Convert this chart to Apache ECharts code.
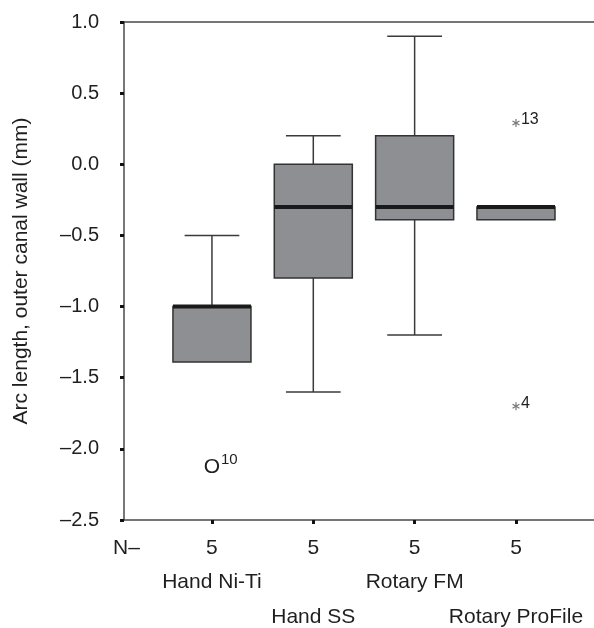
<!DOCTYPE html>
<html>
<head>
<meta charset="utf-8">
<script src="https://cdn.jsdelivr.net/npm/echarts@6/dist/echarts.min.js"></script>
<style>
html, body { margin: 0; padding: 0; background: #fff; }
#chart { width: 594px; height: 628px; }
</style>
</head>
<body>
<div id="chart"></div>
<script>
// 分组与样本数
var groups = ['Hand Ni-Ti', 'Hand SS', 'Rotary FM', 'Rotary ProFile'];
var counts = [5, 5, 5, 5];
var groupPos = [1, 2, 3, 4];

// 箱线图数值
var lowWhisker = [-1.39, -1.6, -1.2, -0.39];
var q1 = [-1.39, -0.8, -0.39, -0.39];
var median = [-1.0, -0.3, -0.3, -0.3];
var q3 = [-1.0, 0.0, 0.2, -0.3];
var highWhisker = [-0.5, 0.2, 0.9, -0.3];

// 离群值
var outlierPos = [1, 4, 4];
var outlierValue = [-2.13, 0.29, -1.7];
var outlierMark = ['O', '*', '*'];
var outlierCase = ['10', '13', '4'];

var FONT = '"Liberation Sans", Arial, sans-serif';
var TXT = '#1f1f1f';
var X_MIN = 0.132, X_MAX = 4.77;

var boxData = groupPos.map(function(x, i) {
    return [x, lowWhisker[i], q1[i], median[i], q3[i], highWhisker[i]];
});
var outlierData = outlierPos.map(function(x, i) {
    return [x, outlierValue[i]];
});

function renderBox(params, api) {
    var x = api.value(0);
    var pLow = api.coord([x, api.value(1)]);
    var pQ1 = api.coord([x, api.value(2)]);
    var pMed = api.coord([x, api.value(3)]);
    var pQ3 = api.coord([x, api.value(4)]);
    var pHigh = api.coord([x, api.value(5)]);
    var boxW = api.size([0.77, 0])[0];
    var capW = api.size([0.54, 0])[0];
    var cx = pMed[0];
    var ls = { stroke: '#3a3a3a', lineWidth: 1.5 };
    var children = [];
    if (pHigh[1] < pQ3[1] - 0.5) {
        children.push({ type: 'line', shape: { x1: cx, y1: pQ3[1], x2: cx, y2: pHigh[1] }, style: ls });
        children.push({ type: 'line', shape: { x1: cx - capW / 2, y1: pHigh[1], x2: cx + capW / 2, y2: pHigh[1] }, style: ls });
    }
    if (pLow[1] > pQ1[1] + 0.5) {
        children.push({ type: 'line', shape: { x1: cx, y1: pQ1[1], x2: cx, y2: pLow[1] }, style: ls });
        children.push({ type: 'line', shape: { x1: cx - capW / 2, y1: pLow[1], x2: cx + capW / 2, y2: pLow[1] }, style: ls });
    }
    children.push({
        type: 'rect',
        shape: { x: cx - boxW / 2, y: pQ3[1], width: boxW, height: pQ1[1] - pQ3[1] },
        style: { fill: '#8e8f93', stroke: '#333333', lineWidth: 1.5 }
    });
    children.push({
        type: 'line',
        shape: { x1: cx - boxW / 2, y1: pMed[1], x2: cx + boxW / 2, y2: pMed[1] },
        style: { stroke: '#1a1a1a', lineWidth: 4 }
    });
    return { type: 'group', children: children };
}

function renderOutlier(params, api) {
    var i = params.dataIndex;
    var p = api.coord([api.value(0), api.value(1)]);
    var children = [];
    if (outlierMark[i] === 'O') {
        children.push({
            type: 'text', x: p[0], y: p[1],
            style: { text: 'O', font: '21px ' + FONT, fill: TXT, align: 'center', verticalAlign: 'middle' }
        });
        children.push({
            type: 'text', x: p[0] + 9, y: p[1] - 7,
            style: { text: outlierCase[i], font: '15px ' + FONT, fill: TXT, align: 'left', verticalAlign: 'middle' }
        });
    } else {
        // 星号
        [90, 30, 150].forEach(function(a) {
            var r = a * Math.PI / 180, d = 4;
            children.push({
                type: 'line',
                shape: { x1: p[0] - d * Math.cos(r), y1: p[1] - d * Math.sin(r), x2: p[0] + d * Math.cos(r), y2: p[1] + d * Math.sin(r) },
                style: { stroke: '#777', lineWidth: 1.2 }
            });
        });
        children.push({
            type: 'text', x: p[0] + 5, y: p[1] - 3,
            style: { text: outlierCase[i], font: '16px ' + FONT, fill: TXT, align: 'left', verticalAlign: 'middle' }
        });
    }
    return { type: 'group', children: children };
}

// 底部只放文字的辅助轴
function labelAxis(values, margin, textFn) {
    return {
        type: 'value',
        position: 'bottom',
        min: X_MIN,
        max: X_MAX,
        axisLine: { show: false, onZero: false },
        axisTick: { show: false },
        splitLine: { show: false },
        axisLabel: {
            customValues: values,
            hideOverlap: false,
            margin: margin,
            fontSize: 21,
            lineHeight: 24,
            fontFamily: FONT,
            color: TXT,
            formatter: function(v) {
                var i = groupPos.indexOf(Math.round(v));
                return i < 0 ? '' : textFn(i);
            }
        }
    };
}

var chart = echarts.init(document.getElementById('chart'));
chart.setOption({
    animation: false,
    backgroundColor: '#fff',
    grid: { left: 124, right: 0, top: 22, bottom: 108, outerBoundsMode: 'none' },
    xAxis: [{
        type: 'value',
        min: X_MIN,
        max: X_MAX,
        axisLine: { onZero: false, lineStyle: { color: '#4a4a4a', width: 1.5 } },
        axisTick: { show: true, customValues: groupPos, length: 4, lineStyle: { color: '#111', width: 3 } },
        axisLabel: {
            customValues: groupPos,
            hideOverlap: false,
            margin: 16,
            fontSize: 21,
            lineHeight: 24,
            fontFamily: FONT,
            color: TXT,
            formatter: function(v) {
                var i = groupPos.indexOf(Math.round(v));
                return i < 0 ? '' : String(counts[i]);
            }
        },
        splitLine: { show: false }
    }, {
        type: 'value',
        position: 'top',
        min: X_MIN,
        max: X_MAX,
        axisLine: { show: true, onZero: false, lineStyle: { color: '#4a4a4a', width: 1.5 } },
        axisTick: { show: false },
        axisLabel: { show: false },
        splitLine: { show: false }
    },
    labelAxis([1, 3], 50, function(i) { return groups[i]; }),
    labelAxis([2, 4], 85, function(i) { return groups[i]; })
    ],
    yAxis: {
        type: 'value',
        min: -2.5,
        max: 1.0,
        interval: 0.5,
        name: 'Arc length, outer canal wall (mm)',
        nameLocation: 'middle',
        nameGap: 92,
        nameTextStyle: { fontSize: 21, fontFamily: FONT, color: TXT },
        axisLine: { show: true, lineStyle: { color: '#4a4a4a', width: 1.5 } },
        axisTick: { show: true, length: 4, lineStyle: { color: '#111', width: 3 } },
        axisLabel: {
            margin: 25,
            fontSize: 20,
            fontFamily: FONT,
            color: TXT,
            formatter: function(v) {
                return (v < 0 ? '\u2013' : '') + Math.abs(v).toFixed(1);
            }
        },
        splitLine: { show: false }
    },
    graphic: [{
        type: 'text',
        left: 113,
        top: 538,
        style: { text: 'N\u2013', font: '21px ' + FONT, fill: TXT }
    }],
    series: [{
        type: 'custom',
        xAxisIndex: 0,
        renderItem: renderBox,
        encode: { x: 0, y: [1, 2, 3, 4, 5] },
        data: boxData,
        clip: false
    }, {
        type: 'custom',
        xAxisIndex: 0,
        renderItem: renderOutlier,
        encode: { x: 0, y: 1 },
        data: outlierData,
        clip: false
    }]
});
</script>
</body>
</html>
